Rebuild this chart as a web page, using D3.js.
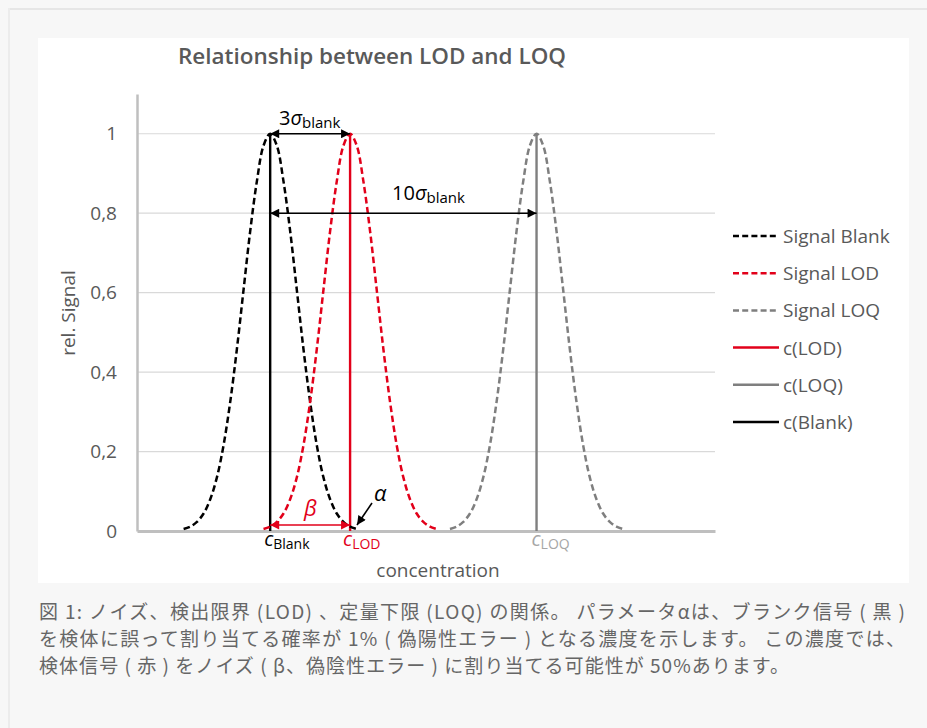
<!DOCTYPE html>
<html>
<head>
<meta charset="utf-8">
<script src="https://cdn.jsdelivr.net/npm/d3@7"></script>
<style>
  html, body { margin: 0; padding: 0; background: #f7f7f7; }
  svg { display: block; }
</style>
</head>
<body>
<svg id="chart" width="927" height="728"></svg>
<script>
// ---- data -------------------------------------------------------------
// concentration in units of sigma(blank); relative signal 0..1
const concBlank = [1.75, 2, 2.25, 2.5, 2.75, 3, 3.25, 3.5, 3.75, 4, 4.25, 4.5, 4.75, 5,
                   5.25, 5.5, 5.75, 6, 6.25, 6.5, 6.75, 7, 7.25, 7.5, 7.75, 8, 8.25];
const signalBlank = [0.005, 0.011, 0.023, 0.044, 0.080, 0.135, 0.216, 0.325, 0.458, 0.607, 0.755, 0.88, 0.97, 1,
                     0.97, 0.88, 0.755, 0.607, 0.458, 0.325, 0.216, 0.135, 0.080, 0.044, 0.023, 0.011, 0.005];

const concLOD = [4.75, 5, 5.25, 5.5, 5.75, 6, 6.25, 6.5, 6.75, 7, 7.25, 7.5, 7.75, 8,
                 8.25, 8.5, 8.75, 9, 9.25, 9.5, 9.75, 10, 10.25, 10.5, 10.75, 11, 11.25];
const signalLOD = [0.005, 0.011, 0.023, 0.044, 0.080, 0.135, 0.216, 0.325, 0.458, 0.607, 0.755, 0.88, 0.97, 1,
                   0.97, 0.88, 0.755, 0.607, 0.458, 0.325, 0.216, 0.135, 0.080, 0.044, 0.023, 0.011, 0.005];

const concLOQ = [11.75, 12, 12.25, 12.5, 12.75, 13, 13.25, 13.5, 13.75, 14, 14.25, 14.5, 14.75, 15,
                 15.25, 15.5, 15.75, 16, 16.25, 16.5, 16.75, 17, 17.25, 17.5, 17.75, 18, 18.25];
const signalLOQ = [0.005, 0.011, 0.023, 0.044, 0.080, 0.135, 0.216, 0.325, 0.458, 0.607, 0.755, 0.88, 0.97, 1,
                   0.97, 0.88, 0.755, 0.607, 0.458, 0.325, 0.216, 0.135, 0.080, 0.044, 0.023, 0.011, 0.005];

// vertical concentration markers: [concentration, height]
const cBlank = [5, 1];
const cLOD = [8, 1];
const cLOQ = [15, 1];

// annotation levels
const level3Sigma = 1.0;
const level10Sigma = 0.8;
const levelBeta = 0.015;

const yTicks = [0, 0.2, 0.4, 0.6, 0.8, 1];
const xDomain = [0, 21.7];
const yDomain = [0, 1.1];

const legendLabels = ["Signal Blank", "Signal LOD", "Signal LOQ", "c(LOD)", "c(LOQ)", "c(Blank)"];

const chartTitle = "Relationship between LOD and LOQ";
const captionLines = [
  "図 1: ノイズ、検出限界 (LOD) 、定量下限 (LOQ) の関係。 パラメータαは、ブランク信号 ( 黒 )",
  "を検体に誤って割り当てる確率が 1% ( 偽陽性エラー ) となる濃度を示します。 この濃度では、",
  "検体信号 ( 赤 ) をノイズ ( β、偽陰性エラー ) に割り当てる可能性が 50%あります。"
];

// ---- styles -----------------------------------------------------------
const RED = "#e2001a", BLACK = "#000000", GREY = "#7f7f7f", TEXT = "#595959";
const FONT = "'Open Sans', 'Noto Sans', sans-serif";
const CJK = "'Noto Sans CJK JP', 'Noto Sans', sans-serif";
const legendStyles = [
  { color: BLACK, dash: "6,3.2" },
  { color: RED, dash: "6,3.2" },
  { color: GREY, dash: "6,3.2" },
  { color: RED, dash: null },
  { color: GREY, dash: null },
  { color: BLACK, dash: null }
];

// ---- frame ------------------------------------------------------------
const svg = d3.select("#chart");
svg.append("rect").attr("width", 927).attr("height", 728).attr("fill", "#f7f7f7");
svg.append("line").attr("x1", 8).attr("x2", 927).attr("y1", 9).attr("y2", 9)
  .attr("stroke", "#e6e6e6").attr("stroke-width", 2);
svg.append("line").attr("x1", 9).attr("x2", 9).attr("y1", 8).attr("y2", 728)
  .attr("stroke", "#ececec").attr("stroke-width", 2);
svg.append("rect").attr("x", 38).attr("y", 38).attr("width", 871).attr("height", 545).attr("fill", "#fff");

// ---- markers ----------------------------------------------------------
const defs = svg.append("defs");
function arrowMarker(id, color) {
  defs.append("marker").attr("id", id)
    .attr("viewBox", "0 0 10 10").attr("refX", 10).attr("refY", 5)
    .attr("markerUnits", "userSpaceOnUse")
    .attr("markerWidth", 10).attr("markerHeight", 9)
    .attr("orient", "auto-start-reverse")
    .append("path").attr("d", "M0,0 L10,5 L0,10 Z").attr("fill", color);
}
arrowMarker("arrBlack", BLACK);
arrowMarker("arrRed", RED);

// ---- scales -----------------------------------------------------------
const plot = { left: 137, right: 715, top: 94, bottom: 531 };
const x = d3.scaleLinear().domain(xDomain).range([plot.left, plot.right]);
const y = d3.scaleLinear().domain(yDomain).range([plot.bottom, plot.top]);

// gridlines
svg.append("g").selectAll("line").data(yTicks.filter(d => d > 0)).join("line")
  .attr("x1", plot.left).attr("x2", plot.right)
  .attr("y1", d => y(d)).attr("y2", d => y(d))
  .attr("stroke", "#d9d9d9").attr("stroke-width", 1.2);

// y axis
const yAxis = svg.append("g").attr("transform", `translate(${plot.left},0)`)
  .call(d3.axisLeft(y).tickValues(yTicks).tickSize(0).tickPadding(20)
    .tickFormat(d => String(d).replace(".", ",")));
yAxis.select(".domain").attr("stroke", "#bfbfbf").attr("stroke-width", 2.5);
yAxis.selectAll("text").attr("font-family", FONT).attr("font-size", 19).attr("fill", TEXT);

// x axis baseline
const xAxis = svg.append("g").attr("transform", `translate(0,${plot.bottom})`)
  .call(d3.axisBottom(x).tickValues([]).tickSize(0).tickSizeOuter(0));
xAxis.select(".domain").attr("stroke", "#bfbfbf").attr("stroke-width", 3);

// ---- curves -----------------------------------------------------------
const line = d3.line().x(d => x(d[0])).y(d => y(d[1])).curve(d3.curveCatmullRom);
const series = [
  { conc: concBlank, sig: signalBlank, color: BLACK },
  { conc: concLOD, sig: signalLOD, color: RED },
  { conc: concLOQ, sig: signalLOQ, color: GREY }
];

// vertical concentration lines
[[cLOQ, GREY], [cLOD, RED], [cBlank, BLACK]].forEach(([c, col]) => {
  svg.append("line").attr("x1", x(c[0])).attr("x2", x(c[0]))
    .attr("y1", y(0)).attr("y2", y(c[1]))
    .attr("stroke", col).attr("stroke-width", 2.4);
});

series.forEach(s => {
  svg.append("path").datum(d3.zip(s.conc, s.sig))
    .attr("d", line).attr("fill", "none")
    .attr("stroke", s.color).attr("stroke-width", 2.5)
    .attr("stroke-dasharray", "6.5,3.5");
});

// ---- annotations ------------------------------------------------------
function hArrow(x1, x2, yy, marker, color) {
  svg.append("line").attr("x1", x1).attr("x2", x2).attr("y1", yy).attr("y2", yy)
    .attr("stroke", color).attr("stroke-width", 1.6)
    .attr("marker-start", `url(#${marker})`).attr("marker-end", `url(#${marker})`);
}
hArrow(x(cBlank[0]), x(cLOD[0]), y(level3Sigma), "arrBlack", BLACK);
hArrow(x(cBlank[0]), x(cLOQ[0]), y(level10Sigma), "arrBlack", BLACK);
hArrow(x(cBlank[0]), x(cLOD[0]), y(levelBeta), "arrRed", RED);

// label with a subscript: parts = [[text, italic]], sub text
function subLabel(xx, yy, parts, sub, color, size, subSize) {
  const t = svg.append("text").attr("x", xx).attr("y", yy)
    .attr("font-family", FONT).attr("font-size", size).attr("fill", color);
  parts.forEach(([txt, it]) => t.append("tspan").text(txt).attr("font-style", it ? "italic" : "normal"));
  t.append("tspan").text(sub).attr("font-size", subSize).attr("dy", 3);
  return t;
}
subLabel(279, 125, [["3", false], ["σ", true]], "blank", BLACK, 20, 15);
subLabel(392, 200, [["10", false], ["σ", true]], "blank", BLACK, 20, 15);

svg.append("text").attr("x", 304).attr("y", 516).text("β")
  .attr("font-family", FONT).attr("font-size", 22).attr("font-style", "italic").attr("fill", RED);
svg.append("text").attr("x", 374).attr("y", 501).text("α")
  .attr("font-family", FONT).attr("font-size", 22).attr("font-style", "italic").attr("fill", BLACK);
svg.append("line").attr("x1", 372).attr("y1", 503).attr("x2", 357).attr("y2", 525)
  .attr("stroke", BLACK).attr("stroke-width", 1.6).attr("marker-end", "url(#arrBlack)");

// concentration labels under the axis
subLabel(x(cBlank[0]) - 6, 546, [["c", true]], "Blank", BLACK, 20, 14);
subLabel(x(cLOD[0]) - 7, 546, [["c", true]], "LOD", RED, 20, 14);
subLabel(x(cLOQ[0]) - 5, 546, [["c", true]], "LOQ", "#a6a6a6", 20, 14);

// axis titles
svg.append("text").attr("x", 438).attr("y", 577).attr("text-anchor", "middle")
  .attr("font-family", FONT).attr("font-size", 19).attr("fill", TEXT).text("concentration");
svg.append("text").attr("transform", "translate(75,313) rotate(-90)").attr("text-anchor", "middle")
  .attr("font-family", FONT).attr("font-size", 19).attr("fill", TEXT).text("rel. Signal");

// title
svg.append("text").attr("x", 178).attr("y", 64)
  .attr("font-family", FONT).attr("font-size", 22).attr("font-weight", 600)
  .attr("fill", TEXT).attr("textLength", 388).attr("lengthAdjust", "spacingAndGlyphs")
  .text(chartTitle);

// ---- legend -----------------------------------------------------------
const legend = svg.append("g");
legendLabels.forEach((lab, i) => {
  const ly = 236 + i * 37.2;
  const st = legendStyles[i];
  legend.append("line").attr("x1", 733).attr("x2", 779).attr("y1", ly).attr("y2", ly)
    .attr("stroke", st.color).attr("stroke-width", 2.5)
    .attr("stroke-dasharray", st.dash);
  legend.append("text").attr("x", 783).attr("y", ly + 7)
    .attr("font-family", FONT).attr("font-size", 19).attr("fill", TEXT).text(lab);
});

// ---- caption ----------------------------------------------------------
const captionWidths = [866, 866, 750];
captionLines.forEach((ln, i) => {
  svg.append("text").attr("x", 39).attr("y", 619 + i * 26.8)
    .attr("font-family", CJK).attr("font-size", 19).attr("fill", "#666666")
    .attr("textLength", captionWidths[i]).attr("lengthAdjust", "spacing")
    .text(ln);
});
</script>
</body>
</html>
